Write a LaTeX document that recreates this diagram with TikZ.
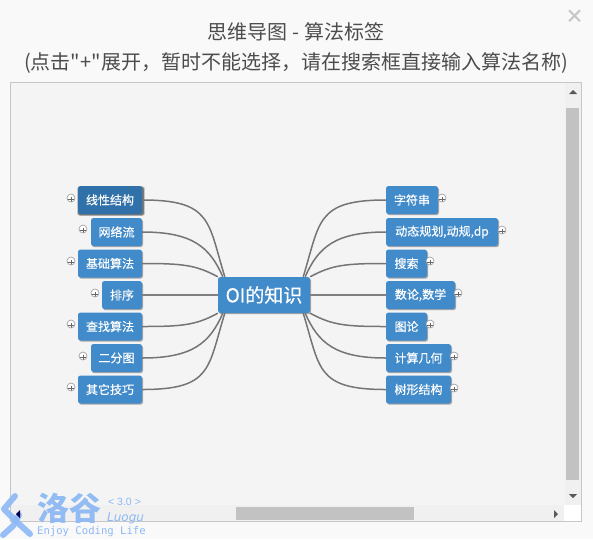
\documentclass[tikz,border=0pt]{standalone}
\usepackage{fontspec}
\setmainfont{Noto Sans CJK SC}
\newfontfamily\titlefont{Noto Sans CJK SC}
\newfontfamily\nodefont{Noto Sans CJK SC}[FakeBold=0.35]
\newfontfamily\latinmono{DejaVu Sans Mono}
\newfontfamily\latinobl{DejaVu Sans}[ItalicFont=DejaVu Sans Oblique]
\newfontfamily\versionfont{Liberation Sans}
\usetikzlibrary{shadows,calc}
\definecolor{nodeblue}{HTML}{428BCA}
\definecolor{nodedark}{HTML}{3071A9}
\definecolor{linegray}{HTML}{757575}
\definecolor{logoblue}{HTML}{8DB9F5}
\tikzset{
  x=1pt,y=-1pt,
  mm/.style={draw=none,rounded corners=2.5pt,text=white,font=\nodefont\fontsize{12}{14}\selectfont,inner sep=0pt,
     drop shadow={shadow xshift=1pt,shadow yshift=-1.2pt,fill=black!55,opacity=.6}},
  lnode/.style={mm,fill=nodeblue,minimum height=28pt},
  selnode/.style={draw=none,rounded corners=2.5pt,text=white,font=\nodefont\fontsize{12}{14}\selectfont,inner sep=0pt,
     fill=nodedark,minimum height=28pt,
     drop shadow={shadow xshift=1pt,shadow yshift=-1pt,shadow scale=1.06,fill=black,opacity=.18},
     drop shadow={shadow xshift=1pt,shadow yshift=-1pt,shadow scale=1.03,fill=black,opacity=.4}},
  conn/.style={draw=linegray,line width=1.5pt},
  plusicon/.style={circle,draw=black!40,fill=white,line width=.6pt,minimum size=8pt,inner sep=0pt,
     path picture={\draw[black!60,line width=.5pt] ($(path picture bounding box.center)+(-4,1)$) -- ($(path picture bounding box.center)+(4,1)$);
                   \draw[black!60,line width=.5pt] ($(path picture bounding box.center)+(0,-1.5)$) -- ($(path picture bounding box.center)+(0,4)$);}},
}
\begin{document}
\begin{tikzpicture}
\useasboundingbox (0,0) rectangle (593,539);
\fill[white!97.5!black] (0,0) rectangle (593,539);
\node[text=black!70,font=\titlefont\fontsize{20}{22}\selectfont] (title1) at (296,32) {思维导图\hspace{1pt} - \hspace{1pt}算法标签};
\node[text=black!70,font=\titlefont\fontsize{20}{22}\selectfont] (title2) at (296,63) {(点击"+"展开，暂时不能选择，请在搜索框直接输入算法名称)};
\node[text=black!22,font=\fontsize{19}{19}\selectfont\bfseries] (close) at (575,17) {×};
% panel
\fill[black!4.5,draw=black!22,line width=1pt] (10.5,82.5) rectangle (581.5,521.5);
\fill[black!6] (565,83) rectangle (581,505);
\fill[black!6] (11,505) rectangle (565,521);
\fill[white] (564,505) rectangle (581,521);
\fill[black!24] (566,108) rectangle (579,480);
\fill[black!24] (236,507) rectangle (414,520);
\fill[black!65] (569,94) -- (573,90) -- (577,94) -- cycle;
\fill[black!65] (569,494) -- (577,494) -- (573,498) -- cycle;
\fill[black!65] (554,510) -- (558,514) -- (554,518) -- cycle;
% mind map nodes
\node[mm,fill=nodeblue,minimum width=92pt,minimum height=36pt,font=\nodefont\fontsize{19}{21}\selectfont] (oi) at (264,295) {OI的知识};
\node[selnode,minimum width=64pt] (l1) at (110,200) {线性结构};
\node[lnode,minimum width=51pt] (l2) at (116.5,232) {网络流};
\node[lnode,minimum width=64pt] (l3) at (110,263.5) {基础算法};
\node[lnode,minimum width=40pt] (l4) at (122,295) {排序};
\node[lnode,minimum width=64pt] (l5) at (110,326.5) {查找算法};
\node[lnode,minimum width=51pt] (l6) at (116.5,358) {二分图};
\node[lnode,minimum width=64pt] (l7) at (110,389.5) {其它技巧};
\node[lnode,minimum width=52pt] (r1) at (412,200) {字符串};
\node[lnode,minimum width=112pt] (r2) at (442,232) {动态规划,动规,dp};
\node[lnode,minimum width=41pt] (r3) at (406.5,263.5) {搜索};
\node[lnode,minimum width=69pt] (r4) at (420.5,295) {数论,数学};
\node[lnode,minimum width=41pt] (r5) at (406.5,326.5) {图论};
\node[lnode,minimum width=65pt] (r6) at (418.5,358) {计算几何};
\node[lnode,minimum width=65pt] (r7) at (418.5,389.5) {树形结构};
% connectors
\draw[conn] (l1.east) .. controls +(70,0) and ($(oi.north west)+(-10,-55)$) .. ($(oi.north west)+(7,0)$);
\draw[conn] (l2.east) .. controls +(50,0) and ($(oi.north west)+(-8,-30)$) .. ($(oi.north west)+(5,0)$);
\draw[conn] (l3.east) .. controls +(40,0) and ($(oi.north west)+(-22,-12)$) .. ($(oi.north west)+(0,0)$);
\draw[conn,line width=2pt,draw=gray] (l4.east) -- (oi.west);
\draw[conn] (l5.east) .. controls +(40,0) and ($(oi.south west)+(-22,12)$) .. (oi.south west);
\draw[conn] (l6.east) .. controls +(50,0) and ($(oi.south west)+(-8,30)$) .. ($(oi.south west)+(5,0)$);
\draw[conn] (l7.east) .. controls +(70,0) and ($(oi.south west)+(-10,55)$) .. ($(oi.south west)+(7,0)$);
\draw[conn] (r1.west) .. controls +(-70,0) and ($(oi.north east)+(10,-55)$) .. ($(oi.north east)+(-7,0)$);
\draw[conn] (r2.west) .. controls +(-50,0) and ($(oi.north east)+(8,-30)$) .. ($(oi.north east)+(-5,0)$);
\draw[conn] (r3.west) .. controls +(-40,0) and ($(oi.north east)+(22,-12)$) .. (oi.north east);
\draw[conn,line width=2pt,draw=gray] (r4.west) -- (oi.east);
\draw[conn] (r5.west) .. controls +(-40,0) and ($(oi.south east)+(22,12)$) .. (oi.south east);
\draw[conn] (r6.west) .. controls +(-50,0) and ($(oi.south east)+(8,30)$) .. ($(oi.south east)+(-5,0)$);
\draw[conn] (r7.west) .. controls +(-70,0) and ($(oi.south east)+(10,55)$) .. ($(oi.south east)+(-7,0)$);
% expand icons
\node[plusicon] (pl1) at (71,198) {};
\node[plusicon] (pl2) at (83,229) {};
\node[plusicon] (pl3) at (71,261) {};
\node[plusicon] (pl4) at (95,293) {};
\node[plusicon] (pl5) at (71,324) {};
\node[plusicon] (pl6) at (83,356) {};
\node[plusicon] (pl7) at (71,387) {};
\node[plusicon] (pr1) at (442,198) {};
\node[plusicon] (pr2) at (502,230) {};
\node[plusicon] (pr3) at (430,261) {};
\node[plusicon] (pr4) at (458,293) {};
\node[plusicon] (pr5) at (430,324) {};
\node[plusicon] (pr6) at (454,356) {};
\node[plusicon] (pr7) at (454,388) {};
% logo
\begin{scope}[draw=logoblue,line width=6pt,line cap=round,line join=round,opacity=.9]
\draw (15,496) -- (4,509) -- (18,523) -- (30,534);
\draw (19,515) -- (13,526) -- (3,535);
\end{scope}
\fill[black!70!blue] (20,510) -- (16,514) -- (20,518) -- cycle;
\node[text=logoblue,font=\bfseries\fontsize{32}{34}\selectfont,anchor=west,inner sep=0pt,opacity=.95] (lg) at (37,508) {洛谷};
\node[text=logoblue,font=\versionfont\fontsize{10.5}{11}\selectfont,anchor=west,inner sep=0pt] (ver) at (108,502) {< 3.0 >};
\node[text=logoblue,font=\latinobl\itshape\fontsize{12}{13}\selectfont,anchor=west,inner sep=0pt] (lu) at (107,518) {Luogu};
\node[text=logoblue,font=\latinmono\fontsize{10.6}{11}\selectfont,anchor=west,inner sep=0pt] (en) at (37,532) {Enjoy Coding Life};
\end{tikzpicture}
\end{document}
